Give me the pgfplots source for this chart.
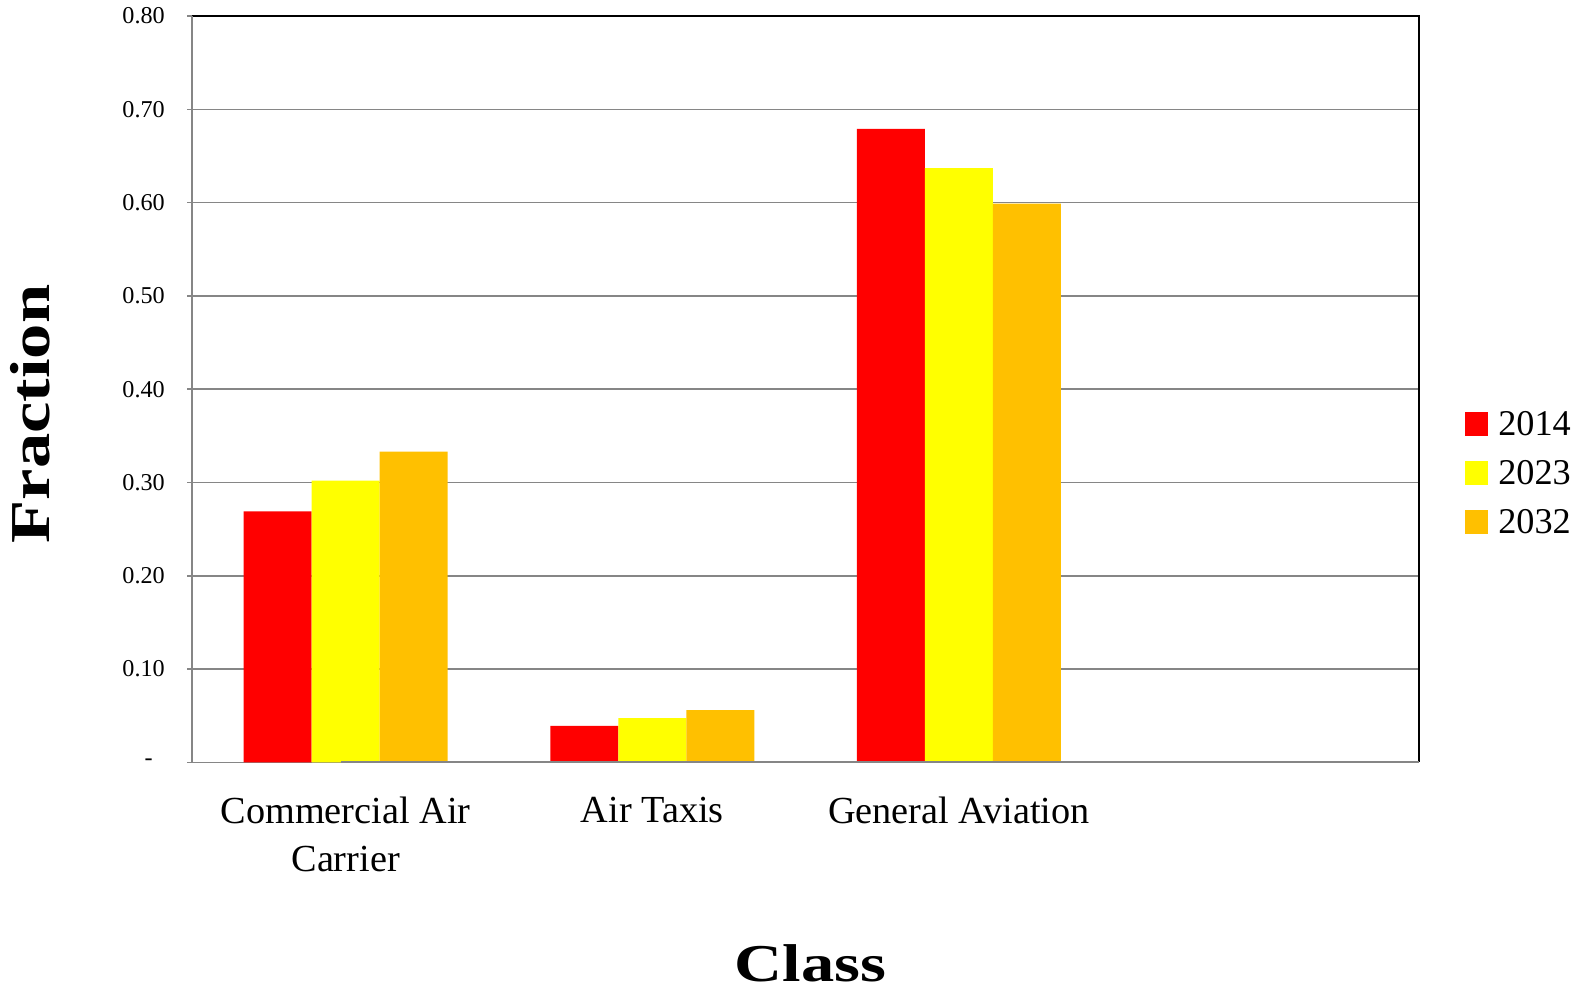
\documentclass[border=0pt]{standalone}
\usepackage{fontspec}
\setmainfont{Liberation Serif}
\newfontfamily\titlefont[FakeStretch=1.25]{Liberation Serif}
\usepackage{pgfplots}
\pgfplotsset{compat=1.18}
\definecolor{cRed}{HTML}{FF0000}
\definecolor{cYel}{HTML}{FFFF00}
\definecolor{cOra}{HTML}{FFC000}
\definecolor{gridgray}{HTML}{868686}
\begin{document}
\begin{tikzpicture}[x=1pt,y=1pt]
\useasboundingbox (-95.5,-114) rectangle (688.5,378.5);
\begin{axis}[
  at={(0,0)}, anchor=south west,
  scale only axis, width=609pt, height=370.5pt,
  xmin=-0.5, xmax=3.5, ymin=0, ymax=0.8,
  ybar=0pt, bar width=0.2217,
  xtick={0,1,2},
  xticklabels={{Commercial Air\\Carrier},{Air Taxis},{General Aviation}},
  x tick style={draw=none},
  xticklabel style={font=\fontsize{19}{24}\selectfont, align=center, anchor=north, inner sep=0pt, yshift=-14.5pt},
  ytick={0,0.1,0.2,0.3,0.4,0.5,0.6,0.7,0.8},
  yticklabels={{-\hbox to 6pt{}},0.10,0.20,0.30,0.40,0.50,0.60,0.70,0.80},
  yticklabel style={font=\fontsize{12}{14}\selectfont, anchor=east, inner sep=0pt, xshift=-11pt},
  y tick style={gridgray, line width=0.8pt},
  ytick pos=left,
  major tick length=2.5pt, tick align=outside,
  ymajorgrids, grid style={gridgray, line width=0.8pt},
  axis line style={draw=none},
  legend style={at={(1.0370,0.388)}, anchor=west, draw=none, fill=none, inner sep=0pt,
    nodes={inner sep=0pt, font=\fontsize{18}{20}\selectfont, text height=12pt, text depth=0pt},
    row sep=12.3pt,
    /tikz/every odd column/.append style={column sep=5pt}},
  legend image code/.code={\fill[#1] (0pt,-5.85pt) rectangle (11.7pt,5.85pt);},
  legend cell align=left,
  clip=false,
]
\addplot[fill=cRed, draw=none, bar shift=-0.2217] coordinates {(0,0.269) (1,0.039) (2,0.679)};
\addplot[fill=cYel, draw=none, bar shift=0] coordinates {(0,0.302) (1,0.0475) (2,0.637)};
\addplot[fill=cOra, draw=none, bar shift=0.2217] coordinates {(0,0.333) (1,0.056) (2,0.599)};
\legend{2014,2023,2032}
\draw[black, line width=0.9pt] (rel axis cs:0,1) -- (rel axis cs:1,1) -- (rel axis cs:1,0);
\draw[gridgray, line width=1pt] (rel axis cs:0,0) -- (rel axis cs:0,1);
\draw[gridgray, line width=1pt] (rel axis cs:0,0) ++(-2.5pt,0) -- (rel axis cs:1,0);
\end{axis}
\node[rotate=90, font=\titlefont\bfseries\fontsize{28}{32}\selectfont, anchor=center] at (-80.5,173) {Fraction};
\node[font=\titlefont\bfseries\fontsize{26.4}{30}\selectfont, anchor=base] at (307,-109) {Class};
\end{tikzpicture}
\end{document}
